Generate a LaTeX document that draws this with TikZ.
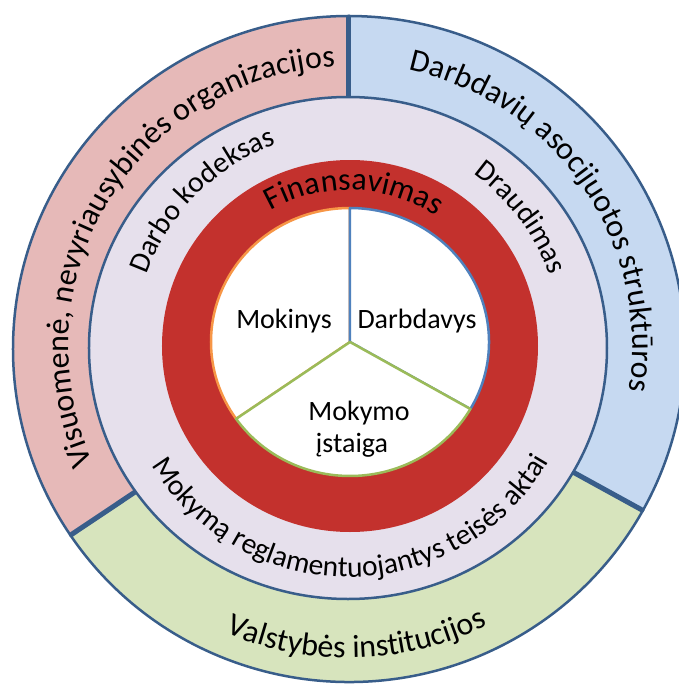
\documentclass[tikz,border=0pt]{standalone}
\usepackage{fontspec}
\setmainfont{Carlito}
\usetikzlibrary{calc, decorations.text}

\definecolor{ringpink}{HTML}{E6B9B8}
\definecolor{ringblue}{HTML}{C6D9F1}
\definecolor{ringgreen}{HTML}{D7E4BD}
\definecolor{ringlav}{HTML}{E6E0EC}
\definecolor{finred}{HTML}{C3312D}
\definecolor{edgeblue}{HTML}{385D8A}
\definecolor{sliceorange}{HTML}{F79646}
\definecolor{sliceblue}{HTML}{4F81BD}
\definecolor{slicegreen}{HTML}{9BBB59}

\newcommand{\outerfont}{\fontsize{32}{36}\selectfont}
\newcommand{\midfont}{\fontsize{29.5}{33}\selectfont}
\newcommand{\innerfont}{\fontsize{28}{32}\selectfont}

\begin{document}
\begin{tikzpicture}[x=1pt, y=1pt,
	ringedge/.style={draw=edgeblue, line width=2.5pt},
	divider/.style={edgeblue, line width=5pt},
	slice/.style={fill=white, line width=2.5pt, line join=round},
	ringtext/.style={decorate, decoration={text along path, text align=center, text={#1}}},
	label/.style={font=\innerfont, anchor=base, inner sep=0pt},
	]
		%definition of origin
		\coordinate (O) at (0,0);
		\clip (-349,-339) rectangle (330,347);
		
		%outer ring
		\coordinate (oc) at (0,-2);
		\filldraw [ringedge, fill=ringpink] (oc) -- ($(oc)+(90:336 and 333)$) arc [start angle=90, end angle=214, x radius=336, y radius=333] -- cycle;
		\filldraw [ringedge, fill=ringblue] (oc) -- ($(oc)+(-29:336 and 333)$) arc [start angle=-29, end angle=90, x radius=336, y radius=333] -- cycle;
		\filldraw [ringedge, fill=ringgreen] (oc) -- ($(oc)+(214:336 and 333)$) arc [start angle=214, end angle=331, x radius=336, y radius=333] -- cycle;
		\foreach \a in {90, 214, -29}
			\draw [divider] (oc) -- ($(oc)+(\a:336 and 333)$);
		
		%legal frame
		\filldraw [ringedge, fill=ringlav] (-1,-1) ellipse [x radius=259, y radius=251];
		
		%financing
		\fill [finred] (1,1) ellipse [x radius=188, y radius=186];
		
		%partners
		\coordinate (pc) at (1,5);
		\filldraw [slice, draw=sliceorange] (pc) -- ($(pc)+(90:139 and 134)$) arc [start angle=90, end angle=215, x radius=139, y radius=134] -- cycle;
		\filldraw [slice, draw=sliceblue] (pc) -- ($(pc)+(-30:139 and 134)$) arc [start angle=-30, end angle=90, x radius=139, y radius=134] -- cycle;
		\filldraw [slice, draw=slicegreen] (pc) -- ($(pc)+(215:139 and 134)$) arc [start angle=215, end angle=330, x radius=139, y radius=134] -- cycle;
		
		\node [label] (mokinys) at (-65,19) {Mokinys};
		\node [label] (darbdavys) at (68,19) {Darbdavys};
		\node [label] (mokymo) at (10,-73) {Mokymo};
		\node [label] (istaiga) at (3,-105) {įstaiga};
		
		%curved labels
		\path [ringtext={|\outerfont|Visuomenė, nevyriausybinės organizacijos}] (218.5:280.5) arc [start angle=218.5, end angle=78.5, radius=280.5];
		\path [ringtext={|\outerfont|Darbdavių asocijuotos struktūros}] (94.5:283.5) arc [start angle=94.5, end angle=-25.5, radius=283.5];
		\path [ringtext={|\outerfont|Valstybės institucijos}] (221.5:311) arc [start angle=221.5, end angle=321.5, radius=311];
		\path [ringtext={|\midfont|Darbo kodeksas}] (185:215) arc [start angle=185, end angle=85, radius=215];
		\path [ringtext={|\midfont|Draudimas}] (87:213) arc [start angle=87, end angle=-13, radius=213];
		\path [ringtext={|\midfont|Mokymą reglamentuojantys teisės aktai}] (190.6:230) arc [start angle=190.6, end angle=350.6, radius=230];
		\path [ringtext={|\outerfont|Finansavimas}] (158:157) arc [start angle=158, end angle=18, radius=157];

	\end{tikzpicture}
\end{document}
